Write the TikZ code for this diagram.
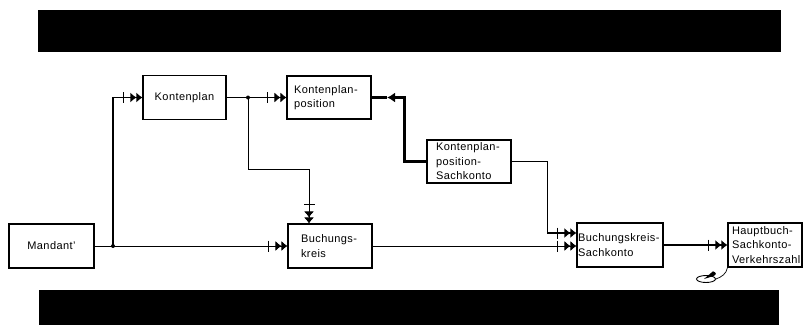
\documentclass[tikz,border=0pt]{standalone}
\usepackage{fontspec}
\setmainfont{Liberation Sans}[LetterSpace=4]
\usetikzlibrary{positioning, arrows.meta, shapes.geometric}

\newcommand\entityfont{\fontsize{11}{14.5}\selectfont\exhyphenpenalty=10000\relax}

\tikzset{
	entity/.style={draw, line width=1.1pt, minimum height=44pt, inner ysep=1.5pt,
		font=\entityfont},
	entityl/.style={entity, align=left},
	rel/.style={line width=0.8pt,
		-{Bar[width=11pt,line width=1.4pt,sep=6pt]Latex[length=6pt,width=10pt]Latex[length=6pt,width=10pt]}},
	bold/.style={line width=2.2pt},
	junction/.style={circle, fill, inner sep=0pt, minimum size=4pt}
}

\begin{document}
\begin{tikzpicture}[x=1pt, y=-1pt]
		\useasboundingbox (0,0) rectangle (803,327);
		% shaded bars
		\fill (38,10) rectangle (781,52);
		\fill (39,290) rectangle (779,325);
		
		\node[entity, minimum width=85pt] (mandant) at (51.5,246) {Mandant'};
		\node[entity, minimum width=83pt] (kontenplan) at (184.5,97.5) {Kontenplan};
		\node[entityl, minimum height=43pt, text width=70pt, inner xsep=7pt] (kpp) at (329,97.5) {Kontenplan-\\position};
		\node[entityl, text width=58pt, inner xsep=13pt] (bk) at (330,246) {Buchungs-\\kreis};
		\node[entityl, minimum height=43pt, text width=66pt, inner xsep=9pt] (kps) at (469,161.5) {Kontenplan-\\position-\\Sachkonto};
		\node[entityl, text width=84pt, inner xsep=1pt] (bks) at (620,245) {Buchungskreis-\\Sachkonto};
		\node[entityl, text width=66pt, inner xsep=4pt] (hb) at (765,245) {Hauptbuch-\\Sachkonto-\\Verkehrszahl};
		\node[draw, ellipse, line width=0.9pt, minimum width=19pt, minimum height=7pt, inner sep=0pt] (note) at (706,279) {};
		
		\coordinate (j1) at (113,246);
		\coordinate (j2) at (248,97.5);
		\coordinate (bkin) at ([xshift=-21pt]bk.north);
		\coordinate (bksin) at ([yshift=12pt]bks.west);
		\coordinate (kpptip) at (387,97.5);
		
		\draw[rel] (mandant.east) -- (bk.west);
		\draw[rel, line width=1.4pt] (j1) |- (kontenplan.west);
		\draw[rel] (kontenplan.east) -- (kpp.west);
		\draw[rel] (j2) -- ++(0,71.5) -| (bkin);
		\draw[bold, -{Latex[length=8pt,width=10pt]}] (kps.west) -- ++(-22,0) |- (kpptip);
		\draw[bold] (kpptip) -- (kpp.east);
		\draw[rel, line width=1.1pt] (kps.east) -- ++(36,0) |- (bksin);
		\draw[rel] (bk.east) -- (bk.east -| bks.west);
		\draw[rel, line width=1.3pt] (bks.east) -- (hb.west);
		\fill ([xshift=-2pt]note.center) -- (note.north east) arc[start angle=45, end angle=-45, x radius=9.5pt, y radius=-3.5pt] -- cycle;
		\draw[line width=0.7pt] (note.east) to[out=20, in=-100] (hb.south west);
		
		\node[junction] at (j1) {};
		\node[junction] at (j2) {};
	\end{tikzpicture}
\end{document}
